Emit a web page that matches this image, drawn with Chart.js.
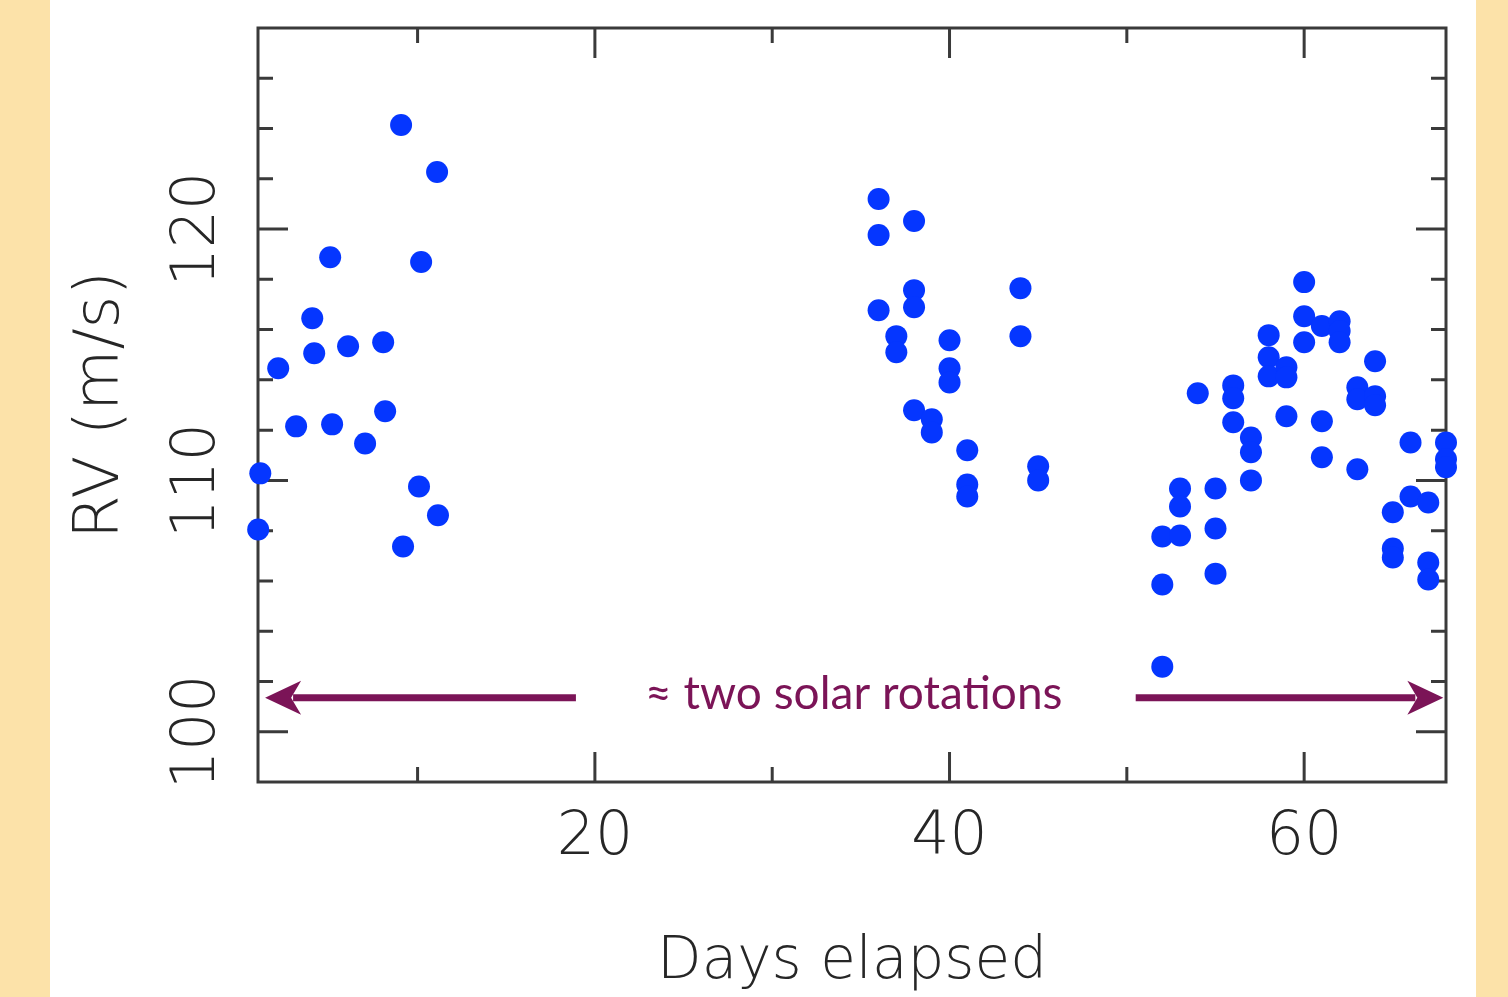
<!DOCTYPE html>
<html>
<head>
<meta charset="utf-8">
<script src="https://cdn.jsdelivr.net/npm/chart.js@4.4.1/dist/chart.umd.min.js"></script>
<style>
html, body { margin: 0; padding: 0; background: #fce2a9; }
#wrap { width: 1508px; height: 997px; }
</style>
</head>
<body>
<div id="wrap"><canvas id="rvChart" width="1508" height="997"></canvas></div>
<script>
// three observing runs, days elapsed vs radial velocity (m/s)
const run1Days = [1.01, 1.13, 2.14, 3.15, 4.06, 4.17, 5.07, 5.18, 6.08, 7.04, 8.06, 8.17, 9.07, 9.18, 10.08, 10.2, 11.1, 11.15];
const run1Rv = [108.05, 110.28, 114.46, 112.15, 116.45, 115.06, 118.88, 112.23, 115.34, 111.47, 115.5, 112.75, 124.14, 107.37, 109.76, 118.69, 122.27, 108.61];

const run2Days = [36, 36, 36, 37, 37, 38, 38, 38, 38, 39, 39, 40, 40, 40, 41, 41, 41, 44, 44, 45, 45];
const run2Rv = [121.2, 119.76, 116.77, 115.74, 115.1, 120.32, 117.57, 116.89, 112.79, 112.43, 111.91, 115.58, 114.46, 113.9, 111.2, 109.84, 109.36, 117.65, 115.74, 110.56, 110.0];

const run3Days = [52, 52, 52, 53, 53, 53, 54, 55, 55, 55, 56, 56, 56, 57, 57, 57, 58, 58, 58, 59, 59, 59, 60, 60, 60, 61, 61, 61, 62, 62, 62, 63, 63, 63, 64, 64, 64, 65, 65, 65, 66, 66, 67, 67, 67, 68, 68, 68];
const run3Rv = [107.77, 105.86, 102.59, 109.68, 108.96, 107.81, 113.47, 109.68, 108.09, 106.29, 113.78, 113.27, 112.31, 111.71, 111.12, 110.0, 115.78, 114.9, 114.14, 114.5, 114.1, 112.55, 117.89, 116.53, 115.5, 116.14, 112.35, 110.92, 116.33, 115.94, 115.5, 113.71, 113.23, 110.44, 114.74, 113.35, 112.99, 108.73, 107.29, 106.93, 111.51, 109.36, 109.12, 106.73, 106.06, 111.51, 110.84, 110.52];

const xMin = 1, xMax = 68;
const yMin = 98, yMax = 128;
const xTickLabels = [20, 40, 60];
const xMinorTicks = [10, 30, 50];
const yTickLabels = [100, 110, 120];
const yMinorTicks = [102, 104, 106, 108, 112, 114, 116, 118, 122, 124, 126];

// annotation: arrows span roughly two solar rotations
const noteText = '\u2248 two solar rotations';
const noteX = 34.6, noteY = 101.5;
const arrowY = 101.35;
const leftArrow = [18.93, 1.4];   // [start, tip]
const rightArrow = [50.5, 67.85];

const axisFont = "'DejaVu Sans', sans-serif";
const textColor = '#262626';
const noteColor = '#7b1457';

const toPoints = (xs, ys) => xs.map((x, i) => ({x: x, y: ys[i]}));

const pageBg = {
    id: 'pageBg',
    beforeDraw(chart) {
        const c = chart.ctx;
        c.save();
        c.fillStyle = '#fce2a9';
        c.fillRect(0, 0, chart.width, chart.height);
        c.fillStyle = '#ffffff';
        c.fillRect(50, 0, 1426, chart.height);
        c.restore();
    }
};

const frame = {
    id: 'frame',
    beforeDatasetsDraw(chart) {
        const {ctx, chartArea: a, scales: {x, y}} = chart;
        ctx.save();
        ctx.strokeStyle = '#3a3a3a';
        ctx.lineWidth = 3;
        ctx.strokeRect(a.left, a.top, a.right - a.left, a.bottom - a.top);
        ctx.beginPath();
        const xt = (v, len) => {
            const px = x.getPixelForValue(v);
            ctx.moveTo(px, a.bottom); ctx.lineTo(px, a.bottom - len);
            ctx.moveTo(px, a.top); ctx.lineTo(px, a.top + len);
        };
        const yt = (v, len) => {
            const py = y.getPixelForValue(v);
            ctx.moveTo(a.left, py); ctx.lineTo(a.left + len, py);
            ctx.moveTo(a.right, py); ctx.lineTo(a.right - len, py);
        };
        xTickLabels.forEach(v => xt(v, 30));
        xMinorTicks.forEach(v => xt(v, 15));
        yTickLabels.forEach(v => yt(v, 30));
        yMinorTicks.forEach(v => yt(v, 15));
        ctx.stroke();
        ctx.restore();
    }
};

const note = {
    id: 'note',
    afterDatasetsDraw(chart) {
        const {ctx, scales: {x, y}} = chart;
        const py = y.getPixelForValue(arrowY);
        const arrow = (from, tip) => {
            const x0 = x.getPixelForValue(from);
            const xt = x.getPixelForValue(tip);
            const dir = xt > x0 ? 1 : -1;
            ctx.beginPath();
            ctx.moveTo(x0, py);
            ctx.lineTo(xt - dir * 28, py);
            ctx.stroke();
            ctx.beginPath();
            ctx.moveTo(xt, py);
            ctx.lineTo(xt - dir * 36, py - 17);
            ctx.lineTo(xt - dir * 26, py);
            ctx.lineTo(xt - dir * 36, py + 17);
            ctx.closePath();
            ctx.fill();
        };
        ctx.save();
        ctx.strokeStyle = noteColor;
        ctx.fillStyle = noteColor;
        ctx.lineWidth = 7;
        arrow(leftArrow[0], leftArrow[1]);
        arrow(rightArrow[0], rightArrow[1]);
        ctx.font = "46px Lato, 'Open Sans', sans-serif";
        ctx.textAlign = 'center';
        ctx.textBaseline = 'middle';
        ctx.fillText(noteText, x.getPixelForValue(noteX), y.getPixelForValue(noteY));
        ctx.restore();
    }
};

const dotStyle = {
    backgroundColor: '#0536ff',
    borderWidth: 0,
    pointRadius: 11,
    pointHoverRadius: 11,
    clip: false
};

new Chart(document.getElementById('rvChart'), {
    type: 'scatter',
    data: {
        datasets: [
            Object.assign({label: 'run 1', data: toPoints(run1Days, run1Rv)}, dotStyle),
            Object.assign({label: 'run 2', data: toPoints(run2Days, run2Rv)}, dotStyle),
            Object.assign({label: 'run 3', data: toPoints(run3Days, run3Rv)}, dotStyle)
        ]
    },
    options: {
        responsive: false,
        animation: false,
        events: [],
        layout: {
            padding: {top: 28, right: 62, left: 0, bottom: 0}
        },
        plugins: {
            legend: {display: false},
            tooltip: {enabled: false}
        },
        scales: {
            x: {
                type: 'linear',
                min: xMin,
                max: xMax,
                grid: {display: false, drawTicks: false},
                border: {display: false},
                afterBuildTicks: s => { s.ticks = xTickLabels.map(v => ({value: v})); },
                afterFit: s => { s.height = 215; },
                ticks: {
                    color: textColor,
                    padding: 20,
                    maxRotation: 0,
                    autoSkip: false,
                    font: {family: axisFont, size: 60, weight: '200', lineHeight: 1.2}
                },
                title: {
                    display: true,
                    text: 'Days elapsed',
                    color: textColor,
                    font: {family: axisFont, size: 58, weight: '200', lineHeight: 1},
                    padding: {top: 0, bottom: 5}
                }
            },
            y: {
                type: 'linear',
                min: yMin,
                max: yMax,
                grid: {display: false, drawTicks: false},
                border: {display: false},
                afterBuildTicks: s => { s.ticks = yTickLabels.map(v => ({value: v})); },
                afterFit: s => { s.width = 258; },
                ticks: {
                    color: textColor,
                    padding: 2,
                    minRotation: 90,
                    maxRotation: 90,
                    crossAlign: 'center',
                    font: {family: axisFont, size: 60, weight: '200', lineHeight: 0.5}
                },
                title: {
                    display: true,
                    text: 'RV (m/s)',
                    color: textColor,
                    font: {family: axisFont, size: 63, weight: '200', lineHeight: 1},
                    padding: {top: 70, bottom: 0}
                }
            }
        }
    },
    plugins: [pageBg, frame, note]
});
</script>
</body>
</html>
